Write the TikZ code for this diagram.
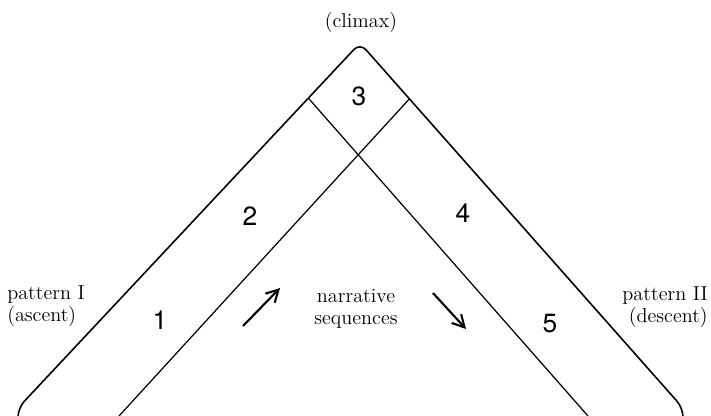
\documentclass[tikz,border=0pt]{standalone}
\usepackage{fontspec}
\newfontfamily\numfont{TeX Gyre Heros}
\usetikzlibrary{arrows.meta,calc}

\begin{document}
\begin{tikzpicture}[x=0.02cm,y=-0.02cm,
		num/.style={font=\numfont\fontsize{15}{18}\selectfont},
		lbl/.style={inner sep=0pt,font=\fontsize{11.5}{12.5}\selectfont},
		outer/.style={line width=0.9pt,rounded corners=1.8mm},
		inner/.style={line width=0.7pt},
		seqarrow/.style={line width=1.2pt,-{Straight Barb[length=2.4mm,width=2.6mm]}}]
		\useasboundingbox (0,0) rectangle (711,416);
		% corners of the big inverted V
		\coordinate (lbot) at (18,416);
		\coordinate (lturn) at (18,408);
		\coordinate (apex) at (360,43);
		\coordinate (rturn) at (683,408);
		\coordinate (rbot) at (683,416);
		\coordinate (ljoin) at ($(lturn)!0.849!(apex)$);
		\coordinate (rjoin) at ($(rturn)!0.847!(apex)$);
		\coordinate (ilbot) at (119,416);
		\coordinate (irbot) at (588,416);
		\draw[outer] (lbot) -- (lturn) -- (apex) -- (rturn) -- (rbot);
		\draw[inner] (ilbot) -- (rjoin);
		\draw[inner] (ljoin) -- (irbot);
		\node[lbl] (climax) at (361,22) {(climax)};
		\node[num] (n3) at (359,96) {3};
		\node[num] (n2) at (250,216) {2};
		\node[num] (n4) at (463,213) {4};
		\node[num] (n1) at (160,320) {1};
		\node[num] (n5) at (550,324) {5};
		\node[lbl,align=left,anchor=west] (patI) at (7,306) {pattern I\\(ascent)};
		\node[lbl,align=right,anchor=east] (patII) at (708,307) {pattern II\\(descent)};
		\node[lbl,align=center] (seq) at (356,309) {narrative\\sequences};
		\coordinate (upfrom) at (243,326);
		\coordinate (upto) at (280,288);
		\coordinate (downfrom) at (433,293);
		\coordinate (downto) at (466,329);
		\draw[seqarrow] (upfrom) -- (upto);
		\draw[seqarrow] (downfrom) -- (downto);
		\end{tikzpicture}
\end{document}
